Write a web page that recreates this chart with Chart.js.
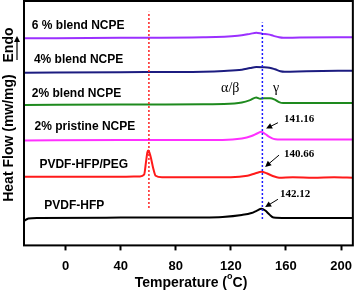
<!DOCTYPE html>
<html>
<head>
<meta charset="utf-8">
<script src="https://cdn.jsdelivr.net/npm/chart.js@4.4.1/dist/chart.umd.min.js"></script>
<style>
  html, body { margin: 0; padding: 0; background: #fff; }
  #wrap { width: 360px; height: 294px; position: relative; }
</style>
</head>
<body>
<div id="wrap"><canvas id="chart"></canvas></div>
<script>
const xTicks = [0, 40, 80, 120, 160, 200]

// DSC traces, temperature (C) and heat flow (arbitrary, stacked offsets)
const purpleT = [-30, 40, 100, 125, 134, 138.5, 143, 147, 151, 155, 158, 170, 209]
const purpleV = [211, 211.5, 212, 213.5, 215.5, 216.7, 215.5, 215, 213.5, 212, 211.5, 211.8, 212]

const navyT = [-30, 40, 100, 115, 128, 134, 138.5, 143, 148, 152, 156, 159, 175, 209]
const navyV = [176, 176.5, 177, 177.7, 179, 180.7, 181.7, 181.5, 181, 179.5, 177.5, 177, 177.5, 178]

const greenT = [-30, 40, 100, 115, 128, 134, 138.4, 141.3, 144, 148.5, 152, 155, 158, 175, 209]
const greenV = [143, 143.5, 143.8, 144, 145.5, 148, 150.7, 149.5, 149.8, 150, 148.5, 146, 145, 145, 145]

const magentaT = [-30, 40, 100, 114, 128, 135, 139, 142.2, 145, 148, 151, 154, 175, 209]
const magentaV = [107, 107.3, 107.5, 107.5, 109, 111.5, 114, 115.7, 113.5, 110.5, 108.5, 108, 108, 108]

const redT = [-30, 0, 40, 54, 57, 58.4, 59.4, 60.2, 61, 62, 63.4, 65.4, 70, 100, 120, 132, 138, 142.2, 146, 150, 155, 165, 180, 195, 209]
const redV = [70, 70, 70, 70.3, 72, 85, 95, 96.7, 94, 89, 80, 71, 69.5, 69.5, 69.5, 71, 73.5, 75, 73.5, 71, 69, 69.5, 69, 69.5, 69]

const blackT = [-30, -27, -20, 40, 100, 114, 128, 135, 139, 142.2, 145, 148, 151, 160, 209]
const blackV = [25, 27.5, 28, 28.3, 28.5, 29, 31, 33, 35.5, 37.3, 35.5, 31.5, 28.5, 28, 28]

// vertical guide lines
const redGuideT = [60.5, 60.5]
const redGuideV = [38, 238]
const blueGuideT = [142.9, 142.9]
const blueGuideV = [27, 227]

const curveLabels = ["6 % blend NCPE", "4% blend NCPE", "2% blend NCPE", "2% pristine NCPE", "PVDF-HFP/PEG", "PVDF-HFP"]
const peakLabels = ["141.16", "140.66", "142.12"]
const phaseLabels = ["α/β", "γ"]

// where the texts and arrows sit, in data units
const curveLabelAt = { t: [-24.5, -23, -24.5, -22.5, -19, -15.5], v: [224, 189, 155, 121, 82, 40] }
const peakLabelAt = { t: [158.6, 158.6, 155.7], v: [128.5, 93.3, 52] }
const phaseLabelAt = { t: [119.6, 152.8], v: [160, 160] }
const arrowAt = {
    fromT: [154.2, 155, 154.2], fromV: [125, 92, 47],
    toT: [145.6, 144.9, 144.9], toV: [119, 80, 39],
}

const pts = (ts, vs) => ts.map((t, i) => ({ x: t, y: vs[i] }))

function trace(ts, vs, color) {
    return {
        data: pts(ts, vs),
        borderColor: color,
        borderWidth: 2,
        pointRadius: 0,
        cubicInterpolationMode: "monotone",
        order: 2,
    }
}

function guide(ts, vs, color) {
    return {
        data: pts(ts, vs),
        borderColor: color,
        borderWidth: 1.5,
        borderDash: [2, 2],
        pointRadius: 0,
        order: 1,
    }
}

const SANS = "'Liberation Sans', Arial, sans-serif"
const SERIF = "'Liberation Serif', 'Times New Roman', serif"

function arrow(ctx, x1, y1, x2, y2) {
    const a = Math.atan2(y2 - y1, x2 - x1)
    ctx.beginPath()
    ctx.moveTo(x1, y1)
    ctx.lineTo(x2 - 4 * Math.cos(a), y2 - 4 * Math.sin(a))
    ctx.stroke()
    ctx.beginPath()
    ctx.moveTo(x2, y2)
    ctx.lineTo(x2 - 6 * Math.cos(a) + 3 * Math.sin(a), y2 - 6 * Math.sin(a) - 3 * Math.cos(a))
    ctx.lineTo(x2 - 6 * Math.cos(a) - 3 * Math.sin(a), y2 - 6 * Math.sin(a) + 3 * Math.cos(a))
    ctx.closePath()
    ctx.fill()
}

const decor = {
    id: "decor",
    afterDraw(chart) {
        const { ctx, chartArea: a, scales: { x, y } } = chart
        ctx.save()
        ctx.fillStyle = "#000"
        ctx.strokeStyle = "#000"

        // frame
        ctx.lineWidth = 2
        ctx.strokeRect(a.left, a.top, a.right - a.left, a.bottom - a.top)

        // curve names
        ctx.font = "bold 12px " + SANS
        ctx.textBaseline = "middle"
        ctx.textAlign = "left"
        curveLabels.forEach((s, i) => {
            ctx.fillText(s, x.getPixelForValue(curveLabelAt.t[i]), y.getPixelForValue(curveLabelAt.v[i]))
        })

        // peak temperatures
        ctx.font = "bold 11px " + SERIF
        peakLabels.forEach((s, i) => {
            ctx.fillText(s, x.getPixelForValue(peakLabelAt.t[i]), y.getPixelForValue(peakLabelAt.v[i]))
        })

        ctx.font = "14px " + SERIF
        ctx.textAlign = "center"
        phaseLabels.forEach((s, i) => {
            ctx.fillText(s, x.getPixelForValue(phaseLabelAt.t[i]), y.getPixelForValue(phaseLabelAt.v[i]))
        })

        ctx.lineWidth = 1
        arrowAt.fromT.forEach((t, i) => {
            arrow(ctx,
                x.getPixelForValue(t), y.getPixelForValue(arrowAt.fromV[i]),
                x.getPixelForValue(arrowAt.toT[i]), y.getPixelForValue(arrowAt.toV[i]))
        })

        // y title, Endo and its arrow
        ctx.font = "bold 14px " + SANS
        ctx.save()
        ctx.translate(9, 138)
        ctx.rotate(-Math.PI / 2)
        ctx.fillText("Heat Flow (mw/mg)", 0, 0)
        ctx.restore()
        ctx.save()
        ctx.translate(9, 45)
        ctx.rotate(-Math.PI / 2)
        ctx.fillText("Endo", 0, 0)
        ctx.restore()
        ctx.lineWidth = 1.2
        arrow(ctx, 17, 60, 17, 36)

        // x title with superscript o
        const p1 = "Temperature (", p2 = "o", p3 = "C)"
        ctx.font = "bold 14px " + SANS
        const w1 = ctx.measureText(p1).width, w3 = ctx.measureText(p3).width
        ctx.font = "bold 9px " + SANS
        const w2 = ctx.measureText(p2).width
        let cx = 191 - (w1 + w2 + w3) / 2
        const cy = 283
        ctx.textAlign = "left"
        ctx.font = "bold 14px " + SANS
        ctx.fillText(p1, cx, cy)
        cx += w1
        ctx.font = "bold 9px " + SANS
        ctx.fillText(p2, cx, cy - 6)
        cx += w2
        ctx.font = "bold 14px " + SANS
        ctx.fillText(p3, cx, cy)
        ctx.restore()
    },
}

new Chart(document.getElementById("chart"), {
    type: "line",
    data: {
        datasets: [
            guide(redGuideT, redGuideV, "#ff2020"),
            guide(blueGuideT, blueGuideV, "#1a1aff"),
            trace(purpleT, purpleV, "#9b30ff"),
            trace(navyT, navyV, "#1c1c80"),
            trace(greenT, greenV, "#1e8a1e"),
            trace(magentaT, magentaV, "#ff30ff"),
            trace(redT, redV, "#ff1a1a"),
            trace(blackT, blackV, "#000000"),
        ],
    },
    options: {
        responsive: true,
        maintainAspectRatio: false,
        animation: false,
        layout: { padding: { left: 24, right: 4, top: 1, bottom: 12 } },
        plugins: { legend: { display: false }, tooltip: { enabled: false } },
        scales: {
            x: {
                type: "linear",
                min: -30.2,
                max: 208.6,
                afterBuildTicks: scale => {
                    scale.ticks = xTicks.map(v => ({ value: v }))
                },
                grid: {
                    drawOnChartArea: false,
                    drawTicks: true,
                    tickLength: 5,
                    tickWidth: 2,
                    tickColor: "#000",
                },
                border: { display: false },
                ticks: {
                    color: "#000",
                    padding: 8,
                    maxRotation: 0,
                    font: { family: SANS, size: 13, weight: "bold" },
                },
            },
            y: { display: false, min: 0, max: 249 },
        },
    },
    plugins: [decor],
})
</script>
</body>
</html>
